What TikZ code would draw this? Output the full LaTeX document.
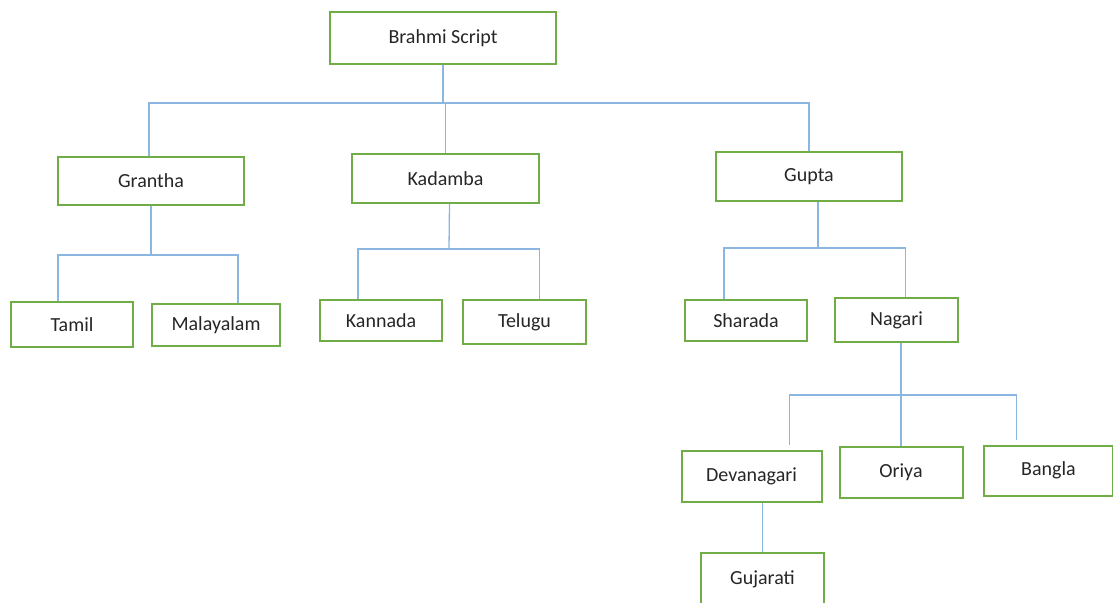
\documentclass[tikz,border=0pt]{standalone}
\usepackage{fontspec}
\setmainfont{Carlito}
\definecolor{boxgreen}{RGB}{112,173,71}
\definecolor{linkblue}{RGB}{140,182,226}
\tikzset{
  script/.style={draw=boxgreen, line width=2pt, fill=white, inner sep=0pt,
    text=black!85},
  link/.style={draw=linkblue, line width=1.3pt}
}
\begin{document}
\begin{tikzpicture}[x=1pt, y=-1pt, font=\fontsize{20}{24}\selectfont]
  \useasboundingbox (0,0) rectangle (1113,602);
  % boxes: name/x/y/width/height/label
  \foreach \n/\x/\y/\w/\h/\t in {
      brahmi/443/38/226/52/{Brahmi Script},
      grantha/151/181/186/48/Grantha,
      kadamba/445.5/178.5/187/49/Kadamba,
      gupta/809/176.5/186/49/Gupta,
      tamil/72/324.5/122/45/Tamil,
      malayalam/216/325/128/42/Malayalam,
      kannada/381/320.5/122/41/Kannada,
      telugu/524.5/322/123/44/Telugu,
      sharada/746/320.5/122/41/Sharada,
      nagari/896.5/320/123/44/Nagari,
      devanagari/751.5/476.5/140/51/Devanagari,
      oriya/901/472/123/51/Oriya,
      bangla/1048.5/470.5/129/50/Bangla,
      gujarati/762.5/579/123/52/Gujarati} {
    \node[script, minimum width=\w, minimum height=\h] (\n) at (\x,\y) {\t};
  }
  % bus lines
  \coordinate (busA) at (445,103);
  \coordinate (busB) at (151,255);
  \coordinate (busC) at (449,249);
  \coordinate (busD) at (818,248);
  \coordinate (busE) at (901,395);
  % Brahmi
  \draw[link] (brahmi.south) -- (brahmi.south |- busA);
  \draw[link] ([xshift=-2pt]grantha.north) |- (busA) -| (gupta.north);
  \draw[link] (kadamba.north) -- (kadamba.north |- busA);
  % Grantha
  \draw[link] (grantha.south) -- (grantha.south |- busB);
  \draw[link] ([xshift=-14pt]tamil.north) |- (busB) -| ([xshift=22pt]malayalam.north);
  % Kadamba
  \draw[link] ([xshift=4pt]kadamba.south) -- (busC);
  \draw[link] ([xshift=-23pt]kannada.north) |- (busC) -| ([xshift=15pt]telugu.north);
  % Gupta
  \draw[link] ([xshift=9pt]gupta.south) -- (busD);
  \draw[link] ([xshift=-22pt]sharada.north) |- (busD) -| ([xshift=9pt]nagari.north);
  % Nagari
  \draw[link] ([xshift=4.5pt]nagari.south) -- (oriya.north);
  \draw[link] ([xshift=38pt,yshift=5pt]devanagari.north) |- (busE) -| ([xshift=-32pt,yshift=5pt]bangla.north);
  % Devanagari
  \draw[link] ([xshift=11pt]devanagari.south) -- ([xshift=0pt]gujarati.north);
\end{tikzpicture}
\end{document}
